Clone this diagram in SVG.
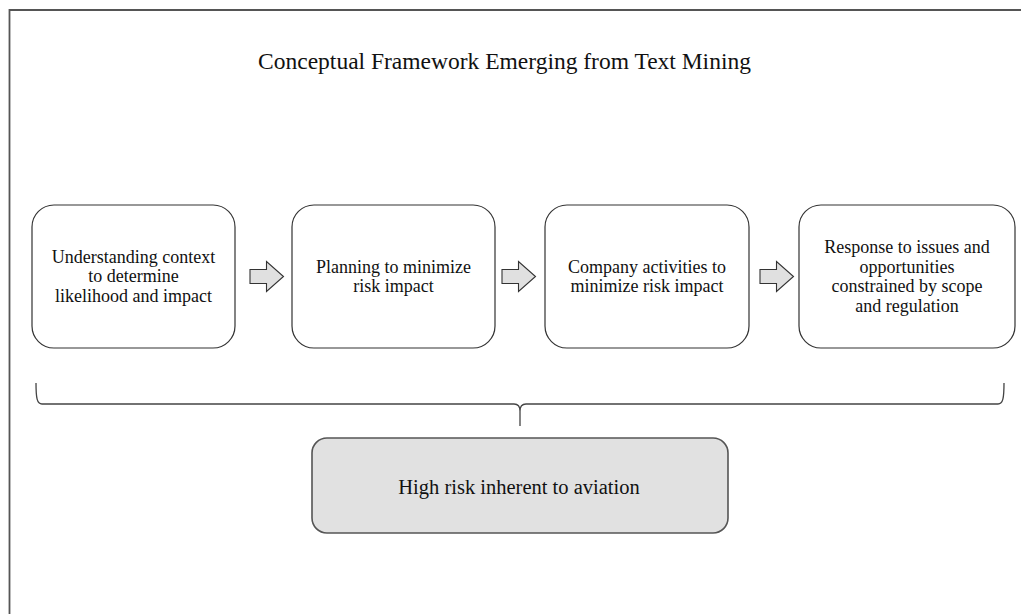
<svg xmlns="http://www.w3.org/2000/svg" width="1021" height="614" viewBox="0 0 1021 614">
<style>
  .frame { fill: none; stroke: #555; stroke-width: 1.8; }
  .box { fill: #ffffff; stroke: #333; stroke-width: 1.2; }
  .base { fill: #e1e1e1; stroke: #555; stroke-width: 1.6; }
  .arrow { fill: #e0e0e0; stroke: #333; stroke-width: 1.1; stroke-linejoin: miter; }
  .brace { fill: none; stroke: #444; stroke-width: 1.3; }
  text { font-family: "Liberation Serif", "Times New Roman", serif; fill: #111; text-anchor: middle; }
  .title { font-size: 23.5px; }
  .lbl { font-size: 18px; }
  .baselbl { font-size: 20.5px; }
</style>
<rect x="0" y="0" width="1021" height="614" fill="#ffffff"/>
<path class="frame" d="M9.5,614 L9.5,10 L1021,10"/>
<text class="title" x="504.5" y="68.5">Conceptual Framework Emerging from Text Mining</text>

<g id="node1">
  <rect class="box" x="32" y="205" width="203" height="143" rx="22" ry="22"/>
  <text class="lbl" x="133.5" y="262.5">Understanding context</text>
  <text class="lbl" x="133.5" y="282">to determine</text>
  <text class="lbl" x="133.5" y="301.5">likelihood and impact</text>
</g>
<g id="node2">
  <rect class="box" x="292" y="205" width="203" height="143" rx="22" ry="22"/>
  <text class="lbl" x="393.5" y="272.5">Planning to minimize</text>
  <text class="lbl" x="393.5" y="292">risk impact</text>
</g>
<g id="node3">
  <rect class="box" x="545" y="205" width="204" height="143" rx="22" ry="22"/>
  <text class="lbl" x="647" y="272.5">Company activities to</text>
  <text class="lbl" x="647" y="292">minimize risk impact</text>
</g>
<g id="node4">
  <rect class="box" x="799" y="205" width="216" height="143" rx="22" ry="22"/>
  <text class="lbl" x="907" y="252.5">Response to issues and</text>
  <text class="lbl" x="907" y="272.5">opportunities</text>
  <text class="lbl" x="907" y="292">constrained by scope</text>
  <text class="lbl" x="907" y="311.5">and regulation</text>
</g>
<g id="node5">
  <rect class="base" x="312" y="438" width="416" height="95" rx="15" ry="15"/>
  <text class="baselbl" x="519" y="494">High risk inherent to aviation</text>
</g>

<g id="connectors">
  <polygon class="arrow" points="250,269.5 266.5,269.5 266.5,261.5 283.5,276.5 266.5,291.5 266.5,283.5 250,283.5"/>
  <polygon class="arrow" points="502,269.5 518.5,269.5 518.5,261.5 535.5,276.5 518.5,291.5 518.5,283.5 502,283.5"/>
  <polygon class="arrow" points="760,269.5 776.5,269.5 776.5,261.5 793.5,276.5 776.5,291.5 776.5,283.5 760,283.5"/>
  <path class="brace" d="M36,383 C36,398 37,404 42,404 L514,404 C518,404 520,406 520,411 L520,426 M520,411 C520,406 522,404 526,404 L998,404 C1003,404 1004,398 1004,383"/>
</g>
</svg>
